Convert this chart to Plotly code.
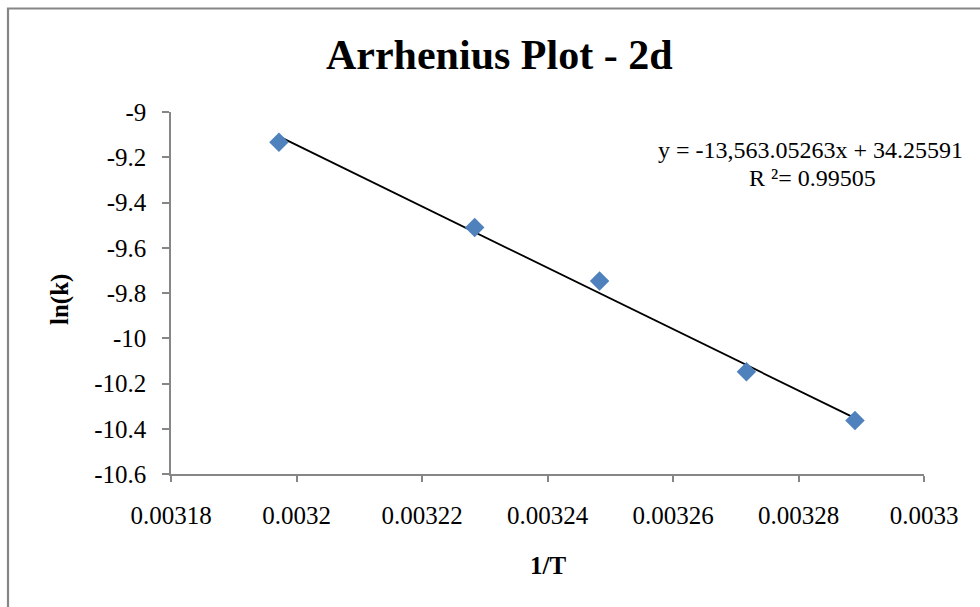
import plotly.graph_objects as go

# Arrhenius data: inverse temperature (1/K) against ln of the rate constant
inv_T = [0.0031972, 0.0032284, 0.0032483, 0.0032717, 0.0032890]
ln_k = [-9.134, -9.510, -9.747, -10.148, -10.364]

# Linear trendline as reported on the chart
slope = -13563.05263
intercept = 34.25591
r_squared = 0.99505

x_tick_vals = [0.00318, 0.0032, 0.00322, 0.00324, 0.00326, 0.00328, 0.0033]
x_tick_text = ["0.00318", "0.0032", "0.00322", "0.00324", "0.00326", "0.00328", "0.0033"]
y_tick_vals = [-9, -9.2, -9.4, -9.6, -9.8, -10, -10.2, -10.4, -10.6]
y_tick_text = ["-9", "-9.2", "-9.4", "-9.6", "-9.8", "-10", "-10.2", "-10.4", "-10.6"]

W, H = 980, 607
ML, MR, MT, MB = 171, 56, 112, 133
PW, PH = W - ML - MR, H - MT - MB


def px_x(p):
    return (p - ML) / PW


def px_y(p):
    return (H - MB - p) / PH


SERIF = "Liberation Serif, Times New Roman, serif"

trend_x = [min(inv_T), max(inv_T)]
trend_y = [slope * v + intercept for v in trend_x]

fig = go.Figure()
fig.add_trace(go.Scatter(
    x=trend_x, y=trend_y, mode="lines",
    line=dict(color="black", width=1.8),
    hoverinfo="skip", showlegend=False,
))
fig.add_trace(go.Scatter(
    x=inv_T, y=ln_k, mode="markers",
    marker=dict(symbol="diamond", size=15, color="#4F81BD",
                line=dict(width=0)),
    showlegend=False,
))

axis_common = dict(
    showgrid=False, zeroline=False, showline=True,
    linecolor="#868686", linewidth=1.5,
    ticks="outside", tickcolor="#868686", tickwidth=1.5,
    tickfont=dict(family=SERIF, size=25, color="black"),
    tickmode="array",
)

fig.update_xaxes(range=[0.00318, 0.0033], tickvals=x_tick_vals,
                 ticktext=x_tick_text, ticklen=6, ticklabelstandoff=12,
                 **axis_common)
fig.update_yaxes(range=[-10.6, -9], tickvals=y_tick_vals,
                 ticktext=y_tick_text, ticklen=7, ticklabelstandoff=11,
                 **axis_common)

annotations = [
    dict(text="<b>Arrhenius Plot - 2d</b>", x=px_x(499), y=px_y(55),
         font=dict(family=SERIF, size=42, color="black")),
    dict(text="<b>1/T</b>", x=px_x(548), y=px_y(565),
         font=dict(family=SERIF, size=25, color="black")),
    dict(text="<b>ln(k)</b>", x=px_x(60), y=px_y(300), textangle=-90,
         font=dict(family=SERIF, size=25, color="black")),
    dict(text=f"y = {slope:,.5f}x + {intercept:.5f}", x=px_x(810), y=px_y(150),
         font=dict(family=SERIF, size=24, color="black")),
    dict(text=f"R ²= {r_squared:.5f}", x=px_x(812), y=px_y(178),
         font=dict(family=SERIF, size=24, color="black")),
]
for a in annotations:
    a.update(xref="paper", yref="paper", xanchor="center", yanchor="middle",
             showarrow=False)

fig.update_layout(
    width=W, height=H,
    margin=dict(l=ML, r=MR, t=MT, b=MB),
    paper_bgcolor="white", plot_bgcolor="white",
    annotations=annotations,
    shapes=[dict(type="rect", xref="paper", yref="paper",
                 x0=px_x(8), x1=px_x(1000), y0=px_y(630), y1=px_y(8.5),
                 line=dict(color="#868686", width=2.2), layer="below")],
)

fig.write_html("out.html")
